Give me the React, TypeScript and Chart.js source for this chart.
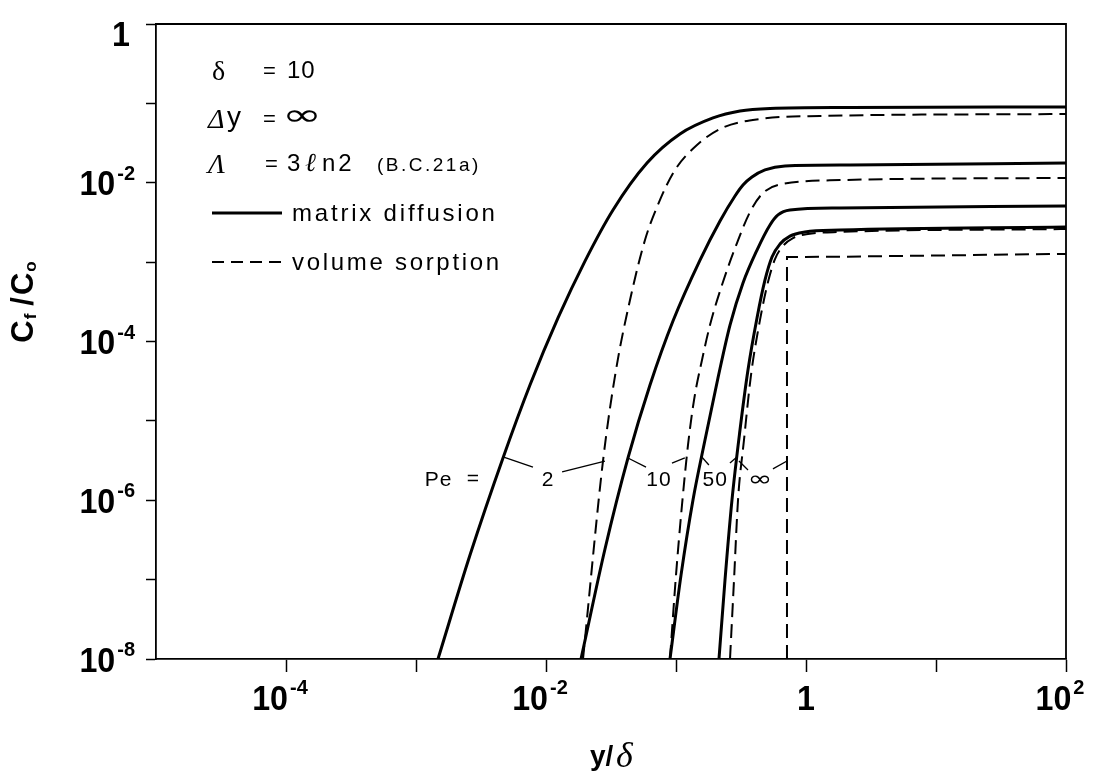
import React, { useEffect, useRef } from "react";
import { Chart, registerables } from "chart.js";

Chart.register(...registerables);

// x = y/δ , y = Cf/Co   (md = matrix diffusion, vs = volume sorption)
const md2X = [1.476e-3, 2.603e-3, 4.669e-3, 7.53e-3, 1.237e-2, 1.995e-2, 3.276e-2, 5.98e-2, 0.1073, 0.1926, 0.3106, 0.5285, 2.181, 100];
const md2Y = [1e-8, 2.04e-7, 3.41e-6, 2.83e-5, 1.98e-4, 1.03e-3, 4.54e-3, 1.77e-2, 4.11e-2, 6.55e-2, 8.02e-2, 8.62e-2, 8.87e-2, 9.0e-2];

const vs2X = [1.926e-2, 2.744e-2, 3.455e-2, 4.428e-2, 5.774e-2, 7.53e-2, 9.82e-2, 0.145, 0.2259, 0.4428, 1.281, 100];
const vs2Y = [1e-8, 3.12e-6, 4.38e-5, 3.33e-4, 1.9e-3, 6.07e-3, 1.45e-2, 2.99e-2, 4.9e-2, 6.36e-2, 6.93e-2, 7.35e-2];

const md10X = [1.859e-2, 2.843e-2, 4.273e-2, 6.31e-2, 9.48e-2, 0.153, 0.2181, 0.2843, 0.3276, 0.3842, 0.4838, 0.6894, 2.181, 100];
const md10Y = [1e-8, 2.43e-7, 3.41e-6, 2.83e-5, 1.81e-4, 1.06e-3, 3.3e-3, 6.81e-3, 9.37e-3, 1.18e-2, 1.45e-2, 1.63e-2, 1.67e-2, 1.77e-2];

const vs10X = [8.99e-2, 0.1, 0.1112, 0.1237, 0.1376, 0.1585, 0.1826, 0.2298, 0.2946, 0.371, 0.4586, 0.609, 1.826, 100];
const vs10Y = [1e-8, 1.14e-7, 8.71e-7, 4.97e-6, 1.83e-5, 5.85e-5, 1.61e-4, 5.62e-4, 1.74e-3, 4.28e-3, 7.21e-3, 9.37e-3, 1.08e-2, 1.15e-2];

const md50X = [8.99e-2, 0.1093, 0.1351, 0.1671, 0.2103, 0.2603, 0.3276, 0.4199, 0.5285, 0.609, 0.753, 1.826, 100];
const md50Y = [1e-8, 1.14e-7, 1.01e-6, 5.74e-6, 3.47e-5, 1.61e-4, 5.46e-4, 1.42e-3, 2.94e-3, 3.93e-3, 4.54e-3, 4.81e-3, 5.09e-3];

const vs50X = [0.2603, 0.2794, 0.3, 0.3334, 0.3775, 0.4428, 0.5101, 0.5774, 0.6652, 0.7943, 1.036, 1.826, 100];
const vs50Y = [1e-8, 9.89e-8, 1.01e-6, 5.74e-6, 3.78e-5, 1.87e-4, 5.62e-4, 1.09e-3, 1.6e-3, 2.01e-3, 2.26e-3, 2.4e-3, 2.61e-3];

const mdInfX = [0.2141, 0.2382, 0.2696, 0.3106, 0.3578, 0.4199, 0.4838, 0.5476, 0.631, 0.753, 0.9824, 1.826, 100];
const mdInfY = [1e-8, 9.89e-8, 1.01e-6, 7.67e-6, 4.38e-5, 1.98e-4, 5.96e-4, 1.16e-3, 1.69e-3, 2.13e-3, 2.4e-3, 2.54e-3, 2.77e-3];

const vsInfX = [0.714, 0.714, 1.83, 100];
const vsInfY = [1e-8, 1.16e-3, 1.17e-3, 1.27e-3];

// axes
const xMin = 1e-5;
const xMax = 100;
const yMin = 1e-8;
const yMax = 1;
const xTickValues = [1e-5, 1e-4, 1e-3, 1e-2, 1e-1, 1, 10, 100];
const yTickValues = [1e-8, 1e-7, 1e-6, 1e-5, 1e-4, 1e-3, 1e-2, 1e-1, 1];
const xLabelValues = [1e-4, 1e-2, 1, 100];
const xLabelBases = ["10", "10", "1", "10"];
const xLabelExps = ["-4", "-2", "", "2"];
const yLabelValues = [1, 1e-2, 1e-4, 1e-6, 1e-8];
const yLabelBases = ["1", "10", "10", "10", "10"];
const yLabelExps = ["", "-2", "-4", "-6", "-8"];

// Pe annotations (data coordinates)
const peLabelText = ["2", "10", "50", "∞"];
const peLabelX = [1.04e-2, 7.4e-2, 0.2, 0.443];
const peRowY = 1.91e-6;
const peTitleX = 1.17e-3;
const leaderSegments = [
  [4.67e-3, 3.51e-6, 7.94e-3, 2.62e-6],
  [1.33e-2, 2.27e-6, 2.84e-2, 3.12e-6],
  [4.27e-2, 3.41e-6, 5.88e-2, 2.62e-6],
  [9.31e-2, 2.94e-6, 0.117, 3.41e-6],
  [0.158, 3.51e-6, 0.179, 2.78e-6],
  [0.26, 2.94e-6, 0.294, 3.51e-6],
  [0.305, 3.12e-6, 0.358, 2.4e-6],
  [0.557, 2.48e-6, 0.714, 3.12e-6],
];

const SANS = '"Liberation Sans", Arial, Helvetica, sans-serif';
const SERIF = '"Liberation Serif", "DejaVu Serif", "Times New Roman", serif';
const DJV = '"DejaVu Sans", sans-serif';

const BASE_FONT = `bold 35px ${SANS}`;
const BASE_SX = 0.92;
const SUP_FONT = `bold 20px ${SANS}`;

function pts(xs: number[], ys: number[]) {
  return xs.map((x, i) => ({ x, y: ys[i] }));
}

function txt(ctx: any, s: string, x: number, y: number, font: string, spacing = 0, align: CanvasTextAlign = "left") {
  ctx.font = font;
  ctx.textAlign = align;
  ctx.textBaseline = "alphabetic";
  ctx.letterSpacing = spacing + "px";
  ctx.fillText(s, x, y);
  ctx.letterSpacing = "0px";
}

function scaledTxt(ctx: any, s: string, x: number, y: number, font: string, sx: number, align: "left" | "center" = "left") {
  ctx.save();
  ctx.font = font;
  ctx.textBaseline = "alphabetic";
  ctx.textAlign = "left";
  const w = ctx.measureText(s).width * sx;
  const x0 = align === "center" ? x - w / 2 : x;
  ctx.translate(x0, y);
  ctx.scale(sx, 1);
  ctx.fillText(s, 0, 0);
  ctx.restore();
  return w;
}

function powWidth(ctx: any, base: string, exp: string) {
  ctx.font = BASE_FONT;
  let w = ctx.measureText(base).width * BASE_SX;
  if (exp) {
    ctx.font = SUP_FONT;
    w += 2 + ctx.measureText(exp).width;
  }
  return w;
}

function drawPow(ctx: any, base: string, exp: string, xLeft: number, yCenter: number) {
  const bw = scaledTxt(ctx, base, xLeft, yCenter + 12.5, BASE_FONT, BASE_SX);
  if (exp) txt(ctx, exp, xLeft + bw + 2, yCenter - 3, SUP_FONT);
}

const annotationPlugin = {
  id: "annotations",
  afterDraw(chart: any) {
    const ctx = chart.ctx;
    const ca = chart.chartArea;
    const xs = chart.scales.x;
    const ys = chart.scales.y;
    const L = ca.left;
    const T = ca.top;
    ctx.save();
    ctx.fillStyle = "#000";
    ctx.strokeStyle = "#000";

    // frame top and right
    ctx.lineWidth = 1.8;
    ctx.beginPath();
    ctx.moveTo(ca.left, ca.top);
    ctx.lineTo(ca.right, ca.top);
    ctx.lineTo(ca.right, ca.bottom);
    ctx.stroke();

    // x tick labels
    xLabelValues.forEach((v, i) => {
      const px = xs.getPixelForValue(v);
      const w = powWidth(ctx, xLabelBases[i], xLabelExps[i]);
      const xLeft = xLabelExps[i] ? px - 6 - w / 2 : px - w / 2;
      drawPow(ctx, xLabelBases[i], xLabelExps[i], xLeft, ca.bottom + 38);
    });
    // y tick labels
    yLabelValues.forEach((v, i) => {
      const py = ys.getPixelForValue(v);
      const w = powWidth(ctx, yLabelBases[i], yLabelExps[i]);
      const right = yLabelExps[i] ? L - 21 : L - 26;
      drawPow(ctx, yLabelBases[i], yLabelExps[i], right - w, Math.max(py, T + 9));
    });

    // y axis title  C_f / C_o
    ctx.save();
    ctx.translate(33, 302);
    ctx.rotate(-Math.PI / 2);
    const parts = [
      { t: "C", f: `bold 31px ${SANS}`, dy: 0, gap: 0 },
      { t: "f", f: `bold 17px ${SANS}`, dy: 3, gap: 1 },
      { t: "/", f: `bold 31px ${SANS}`, dy: 0, gap: 8 },
      { t: "C", f: `bold 31px ${SANS}`, dy: 0, gap: 2 },
      { t: "o", f: `bold 17px ${SANS}`, dy: 3, gap: 1 },
    ];
    let total = 0;
    parts.forEach((p) => {
      ctx.font = p.f;
      total += p.gap + ctx.measureText(p.t).width;
    });
    let cx = -total / 2;
    parts.forEach((p) => {
      cx += p.gap;
      ctx.font = p.f;
      ctx.textAlign = "left";
      ctx.textBaseline = "alphabetic";
      ctx.fillText(p.t, cx, p.dy);
      cx += ctx.measureText(p.t).width;
    });
    ctx.restore();

    // x axis title  y/δ
    txt(ctx, "y/", 590, 765, `bold 28px ${SANS}`);
    txt(ctx, "δ", 616, 767, `italic 36px ${SERIF}`);

    // legend block
    const r1 = T + 54, r2 = T + 102, r3 = T + 147, r4 = T + 197, r5 = T + 246;
    txt(ctx, "δ", L + 56, r1 + 2, `28px ${SERIF}`);
    txt(ctx, "=", L + 107, r1, `22px ${SANS}`);
    txt(ctx, "10", L + 131, r1, `24px ${SANS}`, 1);

    txt(ctx, "Δ", L + 52, r2 + 2, `italic 28px ${SERIF}`);
    txt(ctx, "y", L + 71, r2, `28px ${SANS}`);
    txt(ctx, "=", L + 107, r2, `22px ${SANS}`);
    scaledTxt(ctx, "∞", L + 126, r2 - 1, `30px ${DJV}`, 1.6);

    txt(ctx, "Λ", L + 52, r3 + 2, `italic 28px ${SERIF}`);
    txt(ctx, "=", L + 109, r3, `22px ${SANS}`);
    txt(ctx, "3", L + 131, r3, `24px ${SANS}`);
    txt(ctx, "ℓ", L + 149, r3, `italic 26px ${SERIF}`);
    txt(ctx, "n2", L + 166, r3, `24px ${SANS}`, 3);
    txt(ctx, "(B.C.21a)", L + 221, r3, `19px ${SANS}`, 2.5);

    ctx.lineWidth = 3;
    ctx.beginPath();
    ctx.moveTo(L + 56, r4 - 8);
    ctx.lineTo(L + 126, r4 - 8);
    ctx.stroke();
    txt(ctx, "matrix diffusion", L + 136, r4, `24px ${SANS}`, 2.8);

    ctx.lineWidth = 2;
    ctx.setLineDash([12, 7]);
    ctx.beginPath();
    ctx.moveTo(L + 56, r5 - 8);
    ctx.lineTo(L + 126, r5 - 8);
    ctx.stroke();
    ctx.setLineDash([]);
    txt(ctx, "volume sorption", L + 136, r5, `24px ${SANS}`, 2.7);

    // Pe labels and leaders
    const rowPx = ys.getPixelForValue(peRowY);
    const tx = xs.getPixelForValue(peTitleX);
    txt(ctx, "Pe", tx, rowPx + 8, `21px ${SANS}`, 1);
    txt(ctx, "=", tx + 42, rowPx + 7, `21px ${SANS}`);
    peLabelText.forEach((s, i) => {
      const px = xs.getPixelForValue(peLabelX[i]);
      if (s === "∞") {
        scaledTxt(ctx, s, px, rowPx + 8, `22px ${DJV}`, 1.35, "center");
      } else {
        txt(ctx, s, px, rowPx + 8, `21px ${SANS}`, 1, "center");
      }
    });
    ctx.lineWidth = 1.3;
    leaderSegments.forEach((seg) => {
      ctx.beginPath();
      ctx.moveTo(xs.getPixelForValue(seg[0]), ys.getPixelForValue(seg[1]));
      ctx.lineTo(xs.getPixelForValue(seg[2]), ys.getPixelForValue(seg[3]));
      ctx.stroke();
    });

    ctx.restore();
  },
};

export default function App() {
  const ref = useRef<HTMLCanvasElement>(null);
  useEffect(() => {
    if (!ref.current) return;
    const solid = (xs: number[], ys: number[]) => ({
      data: pts(xs, ys),
      showLine: true,
      borderColor: "#000",
      borderWidth: 3,
      pointRadius: 0,
      cubicInterpolationMode: "monotone" as const,
    });
    const dashed = (xs: number[], ys: number[], mono = true) => ({
      data: pts(xs, ys),
      showLine: true,
      borderColor: "#000",
      borderWidth: 2,
      borderDash: [14, 7],
      pointRadius: 0,
      tension: 0,
      cubicInterpolationMode: mono ? ("monotone" as const) : ("default" as const),
    });
    const chart = new Chart(ref.current, {
      type: "scatter",
      data: {
        datasets: [
          solid(md2X, md2Y),
          solid(md10X, md10Y),
          solid(md50X, md50Y),
          solid(mdInfX, mdInfY),
          dashed(vs2X, vs2Y),
          dashed(vs10X, vs10Y),
          dashed(vs50X, vs50Y),
          dashed(vsInfX, vsInfY, false),
        ] as any,
      },
      options: {
        responsive: false,
        maintainAspectRatio: false,
        animation: false,
        layout: { padding: { left: 0, top: 24, right: 36, bottom: 0 } },
        plugins: {
          legend: { display: false },
          tooltip: { enabled: false },
          title: { display: false },
        },
        scales: {
          x: {
            type: "logarithmic",
            min: xMin,
            max: xMax,
            afterBuildTicks: (s: any) => {
              s.ticks = xTickValues.map((v) => ({ value: v }));
            },
            afterFit: (s: any) => {
              s.height = 121;
            },
            ticks: { display: false },
            grid: {
              drawOnChartArea: false,
              drawTicks: true,
              tickLength: 13,
              tickWidth: 1.5,
              tickColor: (c: any) => (c.tick && c.tick.value <= xMin ? "rgba(0,0,0,0)" : "#000"),
            },
            border: { display: true, color: "#000", width: 1.8 },
          },
          y: {
            type: "logarithmic",
            min: yMin,
            max: yMax,
            afterBuildTicks: (s: any) => {
              s.ticks = yTickValues.map((v) => ({ value: v }));
            },
            afterFit: (s: any) => {
              s.width = 156;
            },
            ticks: { display: false },
            grid: {
              drawOnChartArea: false,
              drawTicks: true,
              tickLength: 10,
              tickWidth: 1.5,
              tickColor: "#000",
            },
            border: { display: true, color: "#000", width: 1.8 },
          },
        },
      } as any,
      plugins: [annotationPlugin],
    });
    return () => chart.destroy();
  }, []);
  return (
    <div style={{ position: "fixed", left: 0, top: 0, width: 1102, height: 780, background: "#fff" }}>
      <canvas ref={ref} width={1102} height={780} style={{ width: 1102, height: 780, display: "block" }} />
    </div>
  );
}
